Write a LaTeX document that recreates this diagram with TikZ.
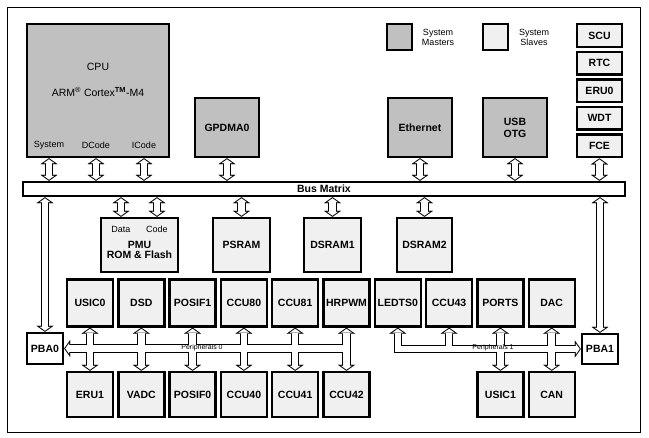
\documentclass[tikz,border=0pt]{standalone}
\usepackage{fontspec}
\setmainfont{Liberation Sans}
\usetikzlibrary{arrows.meta}
\definecolor{mastergray}{RGB}{192,192,192}
\definecolor{slavegray}{RGB}{240,240,240}
\begin{document}
\begin{tikzpicture}[x=1pt,y=-1pt,
    boxtext/.style={inner sep=0pt,align=center,
                font=\fontsize{10.5}{12}\selectfont\bfseries},
    box/.style={boxtext,draw,line width=2.4pt},
    master/.style={box,fill=mastergray,minimum width=64pt,minimum height=59pt},
    slave/.style={box,fill=slavegray,minimum width=46pt,minimum height=47pt},
    bridge/.style={box,fill=white,minimum width=36pt,minimum height=30pt},
    small/.style={font=\fontsize{9}{10}\selectfont,align=center,inner sep=0pt},
    buslabel/.style={font=\fontsize{7}{8}\selectfont,inner sep=0pt},
    busout/.style={line width=8.5pt,black,
                   >={Triangle[length=6pt,width=17pt,line width=0.1pt]}},
    busin/.style={line width=6.5pt,white,shorten >=1.2pt,shorten <=1.2pt,
                  >={Triangle[length=3.8pt,width=10.7pt,line width=0.1pt]}}
  ]
  \useasboundingbox (0,0) rectangle (649,438);
  \draw[line width=0.8pt] (7,7) rectangle (640,432);

  % masters
  \node[master,minimum width=142pt,minimum height=133pt] (cpu) at (98,90.5) {};
  \node[font=\fontsize{10.5}{12}\selectfont] (cputxt) at (98,67) {CPU};
  \node[font=\fontsize{10.5}{12}\selectfont] (armtxt) at (98,92)
       {ARM\textsuperscript{®} Cortex\textsuperscript{\bfseries TM}-M4};
  \node[small] (sys) at (49,145) {System};
  \node[small] (dcode) at (96,145) {DCode};
  \node[small] (icode) at (144,145) {ICode};
  \node[master] (gpdma) at (227,127.5) {GPDMA0};
  \node[master] (eth) at (420,127.5) {Ethernet};
  \node[master] (usb) at (515,127.5) {USB\\OTG};

  % legend
  \node[box,fill=mastergray,minimum width=25pt,minimum height=26pt] (legm) at (399.5,37) {};
  \node[small] (legmtxt) at (438,37) {System\\Masters};
  \node[box,fill=slavegray,minimum width=25pt,minimum height=26pt] (legs) at (495.5,37) {};
  \node[small] (legstxt) at (534,37) {System\\Slaves};

  % system slaves column
  \node[slave,minimum width=45pt,minimum height=22.5pt] (scu) at (599.5,35.5) {SCU};
  \node[slave,minimum width=45pt,minimum height=22.5pt] (rtc) at (599.5,63.1) {RTC};
  \node[slave,minimum width=45pt,minimum height=22.5pt] (eru0) at (599.5,90.7) {ERU0};
  \node[slave,minimum width=45pt,minimum height=22.5pt] (wdt) at (599.5,118.3) {WDT};
  \node[slave,minimum width=45pt,minimum height=22.5pt] (fce) at (599.5,145.9) {FCE};

  \node[box,fill=white,minimum width=602pt,minimum height=14pt] (bus) at (324,189) {Bus Matrix};

  % memories
  \node[slave,minimum width=77pt,minimum height=54pt] (pmu) at (139.5,245) {};
  \node[boxtext] (pmutxt) at (139.5,250) {PMU\\[-1.5pt]ROM \& Flash};
  \node[small] (data) at (121,229) {Data};
  \node[small] (code) at (157,229) {Code};
  \node[slave,minimum width=57pt,minimum height=54pt] (psram) at (241.5,245) {PSRAM};
  \node[slave,minimum width=57pt,minimum height=54pt] (dsram1) at (332.5,245) {DSRAM1};
  \node[slave,minimum width=55pt,minimum height=54pt] (dsram2) at (424.5,245) {DSRAM2};

  % peripherals
  \node[slave] (usic0) at (90,303) {USIC0};
  \node[slave] (dsd) at (141.3,303) {DSD};
  \node[slave] (posif1) at (192.6,303) {POSIF1};
  \node[slave] (ccu80) at (243.9,303) {CCU80};
  \node[slave] (ccu81) at (295.2,303) {CCU81};
  \node[slave] (hrpwm) at (346.5,303) {HRPWM};
  \node[slave] (ledts0) at (397.8,303) {LEDTS0};
  \node[slave] (ccu43) at (449.1,303) {CCU43};
  \node[slave] (ports) at (500.4,303) {PORTS};
  \node[slave] (dac) at (551.7,303) {DAC};
  \node[slave,minimum height=45pt] (eru1) at (90,394.5) {ERU1};
  \node[slave,minimum height=45pt] (vadc) at (141.3,394.5) {VADC};
  \node[slave,minimum height=45pt] (posif0) at (192.6,394.5) {POSIF0};
  \node[slave,minimum height=45pt] (ccu40) at (243.9,394.5) {CCU40};
  \node[slave,minimum height=45pt] (ccu41) at (295.2,394.5) {CCU41};
  \node[slave,minimum height=45pt] (ccu42) at (346.5,394.5) {CCU42};
  \node[slave,minimum height=45pt] (usic1) at (500.4,394.5) {USIC1};
  \node[slave,minimum height=45pt] (can) at (551.7,394.5) {CAN};

  \node[bridge,minimum height=31pt] (pba0) at (45,348.5) {PBA0};
  \node[bridge] (pba1) at (600,349) {PBA1};

  % hollow bus arrows: black outline first, white inside after
  \foreach \pass in {busout,busin}{
    \draw[\pass,<->] (sys |- cpu.south) -- (sys |- bus.north);
    \draw[\pass,<->] (dcode |- cpu.south) -- (dcode |- bus.north);
    \draw[\pass,<->] (icode |- cpu.south) -- (icode |- bus.north);
    \draw[\pass,<->] (gpdma.south) -- (gpdma.south |- bus.north);
    \draw[\pass,<->] (eth.south) -- (eth.south |- bus.north);
    \draw[\pass,<->] (usb.south) -- (usb.south |- bus.north);
    \draw[\pass,<->] (fce.south) -- (fce.south |- bus.north);
    \draw[\pass,<->] (pba0 |- bus.south) -- (pba0.north);
    \draw[\pass,<->] (pba1 |- bus.south) -- (pba1.north);
    \draw[\pass,<->] (data |- bus.south) -- (data |- pmu.north);
    \draw[\pass,<->] (code |- bus.south) -- (code |- pmu.north);
    \draw[\pass,<->] (psram |- bus.south) -- (psram.north);
    \draw[\pass,<->] (dsram1 |- bus.south) -- (dsram1.north);
    \draw[\pass,<->] (dsram2 |- bus.south) -- (dsram2.north);
    % peripherals 0
    \draw[\pass,<-] (pba0.east) -- (hrpwm |- pba0);
    \draw[\pass,<->] (usic0.south) -- (eru1.north);
    \draw[\pass,<->] (dsd.south) -- (vadc.north);
    \draw[\pass,<->] (posif1.south) -- (posif0.north);
    \draw[\pass,<->] (ccu80.south) -- (ccu40.north);
    \draw[\pass,<->] (ccu81.south) -- (ccu41.north);
    \draw[\pass,<->] (hrpwm.south) -- (ccu42.north);
    % peripherals 1
    \draw[\pass,<->] (ledts0.south) -- (ledts0 |- pba1) -- (pba1.west);
    \draw[\pass,->] (ccu43 |- pba1) -- (ccu43.south);
    \draw[\pass,<->] (ports.south) -- (usic1.north);
    \draw[\pass,<->] (dac.south) -- (can.north);
  }
  \node[buslabel] (p0) at (202,347.5) {Peripherals 0};
  \node[buslabel] (p1) at (493,348) {Peripherals 1};
\end{tikzpicture}
\end{document}
